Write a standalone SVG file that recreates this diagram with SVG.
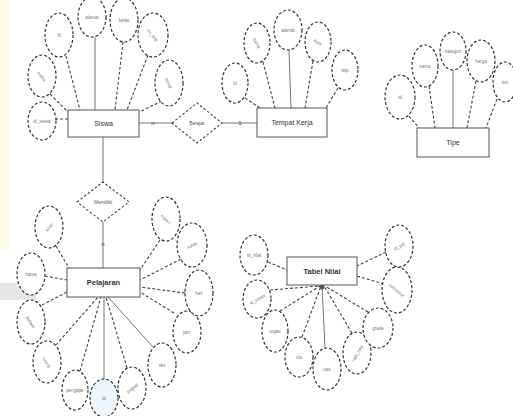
<svg xmlns="http://www.w3.org/2000/svg" width="513" height="416" viewBox="0 0 513 416">
<style>
.bg{fill:#ffffff}
.ent rect{fill:#ffffff;stroke:#555;stroke-width:1}
.ent text{font-family:"Liberation Sans",Arial,sans-serif;font-size:7px;fill:#333;text-anchor:middle}
.att ellipse{fill:#ffffff;stroke:#333;stroke-width:1.2;stroke-dasharray:3 2}
.att text{font-family:"Liberation Sans",Arial,sans-serif;font-size:4.5px;fill:#777;text-anchor:middle}
.rel polygon{fill:#ffffff;stroke:#444;stroke-width:1.1;stroke-dasharray:2.5 2}
.rel text{font-family:"Liberation Sans",Arial,sans-serif;font-size:5px;fill:#555;text-anchor:middle}
.con line{stroke:#444;stroke-width:1.1;stroke-dasharray:3 2;fill:none}
.con line.s{stroke-dasharray:none;stroke:#666;stroke-width:0.9}
.card{font-family:"Liberation Sans",Arial,sans-serif;font-size:6px;fill:#444;text-anchor:middle}
</style>
<rect class="bg" x="0" y="0" width="513" height="416"/>
<rect x="0" y="0" width="9" height="250" fill="#fcf9e8"/>
<rect x="0" y="283" width="36" height="17" fill="#e6e6e6"/>

<g id="connectors" class="con">
  <!-- Siswa attributes -->
  <line x1="50" y1="94" x2="68" y2="112"/>
  <line x1="55" y1="119" x2="68" y2="119"/>
  <line x1="66" y1="56" x2="80" y2="110"/>
  <line class="s" x1="95" y1="37" x2="95" y2="110"/>
  <line x1="123" y1="42" x2="115" y2="110"/>
  <line x1="148" y1="55" x2="127" y2="110"/>
  <line x1="162" y1="101" x2="139" y2="112"/>
  <!-- Siswa - relation - Tempat -->
  <line class="s" x1="139" y1="123" x2="172" y2="123"/>
  <line class="s" x1="222" y1="123" x2="257" y2="123"/>
  <!-- Tempat attributes -->
  <line x1="245" y1="98" x2="260" y2="108"/>
  <line x1="263" y1="62" x2="275" y2="108"/>
  <line class="s" x1="289" y1="50" x2="291" y2="108"/>
  <line x1="313" y1="61" x2="305" y2="108"/>
  <line x1="338" y1="88" x2="326" y2="108"/>
  <!-- Tipe attributes -->
  <line x1="409" y1="116" x2="419" y2="128"/>
  <line x1="429" y1="86" x2="435" y2="128"/>
  <line class="s" x1="453" y1="70" x2="453" y2="128"/>
  <line x1="476" y1="81" x2="467" y2="128"/>
  <line x1="497" y1="99" x2="486" y2="128"/>
  <!-- Siswa - relation2 - bottom entity -->
  <line class="s" x1="103" y1="137" x2="103" y2="182"/>
  <line class="s" x1="103" y1="222" x2="103" y2="268"/>
  <!-- bottom-left attributes -->
  <line x1="56" y1="246" x2="69" y2="268"/>
  <line x1="45" y1="276" x2="67" y2="280"/>
  <line x1="42" y1="305" x2="67" y2="292"/>
  <line x1="56" y1="345" x2="98" y2="297"/>
  <line x1="80" y1="371" x2="101" y2="297"/>
  <line class="s" x1="104" y1="380" x2="104" y2="297"/>
  <line x1="127" y1="368" x2="106" y2="297"/>
  <line class="s" x1="153" y1="347" x2="108" y2="297"/>
  <line x1="174" y1="313" x2="140" y2="292"/>
  <line x1="185" y1="293" x2="140" y2="287"/>
  <line x1="181" y1="259" x2="140" y2="280"/>
  <line x1="160" y1="240" x2="140" y2="270"/>
  <!-- Tabel Nilai attributes -->
  <line x1="268" y1="262" x2="287" y2="270"/>
  <line x1="270" y1="290" x2="320" y2="286"/>
  <line x1="280" y1="311" x2="320" y2="286"/>
  <line x1="302" y1="337" x2="321" y2="286"/>
  <line class="s" x1="325" y1="348" x2="322" y2="286"/>
  <line x1="352" y1="333" x2="324" y2="286"/>
  <line x1="368" y1="312" x2="325" y2="286"/>
  <line x1="384" y1="284" x2="357" y2="276"/>
  <line x1="386" y1="252" x2="357" y2="266"/>
</g>
<circle cx="322" cy="287" r="2.5" fill="#555"/>

<text class="card" x="153" y="125">n</text>
<text class="card" x="240" y="125">1</text>
<text class="card" x="103" y="246">n</text>

<!-- Siswa cluster -->
<g id="siswa" class="ent"><rect x="68" y="110" width="71" height="27"/><text x="103.5" y="126">Siswa</text></g>
<g id="siswa-id" class="att"><ellipse cx="42" cy="121" rx="14" ry="19"/><text x="42" y="123">id_siswa</text></g>
<g id="siswa-nama" class="att"><ellipse cx="42" cy="76" rx="14" ry="21"/><text x="42" y="78" transform="rotate(50 42 76)">nama</text></g>
<g id="siswa-n" class="att"><ellipse cx="59" cy="35" rx="14" ry="22"/><text x="59" y="37">N</text></g>
<g id="siswa-alamat" class="att"><ellipse cx="92" cy="17" rx="14" ry="20"/><text x="92" y="19">alamat</text></g>
<g id="siswa-kelas" class="att"><ellipse cx="124" cy="20" rx="14" ry="22"/><text x="124" y="22">kelas</text></g>
<g id="siswa-telp" class="att"><ellipse cx="153" cy="35" rx="15" ry="22"/><text x="153" y="37" transform="rotate(50 153 35)">no_telp</text></g>
<g id="siswa-email" class="att"><ellipse cx="169" cy="83" rx="14" ry="23"/><text x="169" y="85" transform="rotate(65 169 83)">email</text></g>

<g id="rel-belajar" class="rel"><polygon points="172,123 197,103 222,123 197,143"/><text x="197" y="125">Belajar</text></g>

<!-- Tempat cluster -->
<g id="tempat" class="ent"><rect x="257" y="108" width="70" height="29"/><text x="292" y="125">Tempat Kerja</text></g>
<g id="tempat-id" class="att"><ellipse cx="235" cy="83" rx="13" ry="20"/><text x="235" y="85">Id</text></g>
<g id="tempat-nama" class="att"><ellipse cx="257" cy="43" rx="13" ry="20"/><text x="257" y="45" transform="rotate(60 257 43)">nama</text></g>
<g id="tempat-alamat" class="att"><ellipse cx="288" cy="30" rx="14" ry="20"/><text x="288" y="32">alamat</text></g>
<g id="tempat-kota" class="att"><ellipse cx="318" cy="42" rx="13" ry="20"/><text x="318" y="44" transform="rotate(30 318 42)">kota</text></g>
<g id="tempat-telp" class="att"><ellipse cx="345" cy="70" rx="13" ry="20"/><text x="345" y="72">telp</text></g>

<!-- Tipe cluster -->
<g id="tipe" class="ent"><rect x="417" y="128" width="72" height="29"/><text x="453" y="145">Tipe</text></g>
<g id="tipe-id" class="att"><ellipse cx="400" cy="97" rx="15" ry="22"/><text x="400" y="99">id</text></g>
<g id="tipe-nama" class="att"><ellipse cx="425" cy="66" rx="13" ry="21"/><text x="425" y="68">nama</text></g>
<g id="tipe-kategori" class="att"><ellipse cx="453" cy="51" rx="13" ry="19"/><text x="453" y="53">kategori</text></g>
<g id="tipe-harga" class="att"><ellipse cx="481" cy="61" rx="14" ry="21"/><text x="481" y="63">harga</text></g>
<g id="tipe-ket" class="att"><ellipse cx="505" cy="82" rx="12" ry="20"/><text x="505" y="84">ket</text></g>

<g id="rel-memiliki" class="rel"><polygon points="77,202 103,182 129,202 103,222"/><text x="103" y="204">Memiliki</text></g>

<!-- Pelajaran cluster -->
<g id="pelajaran" class="ent"><rect x="67" y="268" width="73" height="29"/><text x="103.5" y="285" style="font-size:7.5px;font-weight:bold">Pelajaran</text></g>
<g id="pel-1" class="att"><ellipse cx="49" cy="227" rx="14" ry="21"/><text x="49" y="229" transform="rotate(-50 49 227)">kode</text></g>
<g id="pel-2" class="att"><ellipse cx="31" cy="274" rx="14" ry="21"/><text x="31" y="276">nama</text></g>
<g id="pel-3" class="att"><ellipse cx="31" cy="322" rx="14" ry="22"/><text x="31" y="324" transform="rotate(60 31 322)">jadwal</text></g>
<g id="pel-4" class="att"><ellipse cx="47" cy="362" rx="14" ry="21"/><text x="47" y="364" transform="rotate(55 47 362)">ruang</text></g>
<g id="pel-5" class="att"><ellipse cx="75" cy="390" rx="13" ry="20"/><text x="75" y="392">pengajar</text></g>
<g id="pel-6" class="att"><ellipse cx="104" cy="398" rx="14" ry="19" style="fill:#eef5fb"/><text x="104" y="400">id</text></g>
<g id="pel-7" class="att"><ellipse cx="132" cy="388" rx="14" ry="21"/><text x="132" y="390" transform="rotate(-40 132 388)">tingkat</text></g>
<g id="pel-8" class="att"><ellipse cx="162" cy="365" rx="14" ry="22"/><text x="162" y="367">sks</text></g>
<g id="pel-9" class="att"><ellipse cx="187" cy="332" rx="14" ry="21"/><text x="187" y="334">jam</text></g>
<g id="pel-10" class="att"><ellipse cx="199" cy="293" rx="14" ry="23"/><text x="199" y="295">hari</text></g>
<g id="pel-11" class="att"><ellipse cx="192" cy="245" rx="15" ry="22"/><text x="192" y="247" transform="rotate(-30 192 245)">kelas</text></g>
<g id="pel-12" class="att"><ellipse cx="166" cy="219" rx="14" ry="22"/><text x="166" y="221" transform="rotate(45 166 219)">materi</text></g>

<!-- Tabel Nilai cluster -->
<g id="nilai" class="ent"><rect x="287" y="257" width="70" height="28"/><text x="322" y="274" style="font-size:7.5px;font-weight:bold">Tabel Nilai</text></g>
<g id="nil-1" class="att"><ellipse cx="254" cy="255" rx="14" ry="20"/><text x="254" y="257">id_nilai</text></g>
<g id="nil-2" class="att"><ellipse cx="257" cy="299" rx="14" ry="19"/><text x="257" y="301" transform="rotate(-30 257 299)">id_siswa</text></g>
<g id="nil-3" class="att"><ellipse cx="275" cy="331" rx="13" ry="21"/><text x="275" y="333">tugas</text></g>
<g id="nil-4" class="att"><ellipse cx="299" cy="357" rx="14" ry="20"/><text x="299" y="359">uts</text></g>
<g id="nil-5" class="att"><ellipse cx="327" cy="369" rx="14" ry="21"/><text x="327" y="371">uas</text></g>
<g id="nil-6" class="att"><ellipse cx="357" cy="353" rx="14" ry="21"/><text x="357" y="355" transform="rotate(-60 357 353)">rata_rata</text></g>
<g id="nil-7" class="att"><ellipse cx="378" cy="328" rx="15" ry="20"/><text x="378" y="330">grade</text></g>
<g id="nil-8" class="att"><ellipse cx="397" cy="290" rx="15" ry="23"/><text x="397" y="292" transform="rotate(40 397 290)">semester</text></g>
<g id="nil-9" class="att"><ellipse cx="399" cy="246" rx="14" ry="21"/><text x="399" y="248" transform="rotate(-30 399 246)">id_pel</text></g>
</svg>
